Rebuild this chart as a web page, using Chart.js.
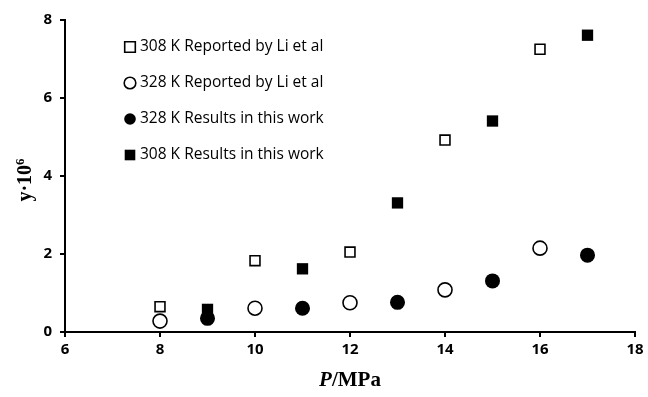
<!DOCTYPE html>
<html>
<head>
<meta charset="utf-8">
<script src="https://cdn.jsdelivr.net/npm/chart.js@4"></script>
<style>
  html, body { margin: 0; padding: 0; background: #fff; }
  #wrap { width: 648px; height: 397px; }
</style>
</head>
<body>
<div id="wrap"><canvas id="chart" width="648" height="397"></canvas></div>
<script>
// pressure (MPa) for each series
const p308Li = [8, 10, 12, 14, 16];
const y308Li = [0.65, 1.83, 2.05, 4.92, 7.25];
const p328Li = [8, 10, 12, 14, 16];
const y328Li = [0.28, 0.61, 0.75, 1.08, 2.15];
const p328Work = [9, 11, 13, 15, 17];
const y328Work = [0.35, 0.61, 0.76, 1.31, 1.97];
const p308Work = [9, 11, 13, 15, 17];
const y308Work = [0.58, 1.62, 3.31, 5.41, 7.61];

const seriesNames = [
    '308 K Reported by Li et al',
    '328 K Reported by Li et al',
    '328 K Results in this work',
    '308 K Results in this work'
];

function pts(xs, ys) {
    return xs.map((x, i) => ({ x: x, y: ys[i] }));
}

// legend drawn inside the plot, upper left
const insideLegend = {
    id: 'insideLegend',
    afterDraw(chart) {
        const ctx = chart.ctx;
        const ds = chart.data.datasets;
        ctx.save();
        ctx.font = '15.5px "Open Sans", sans-serif';
        ctx.textBaseline = 'middle';
        ds.forEach((d, i) => {
            const y = 47 + i * 36;
            const x = 130;
            const r = d.pointStyle === 'rect' ? 7.5 : 5.8;
            ctx.fillStyle = d.backgroundColor;
            ctx.strokeStyle = '#000';
            ctx.lineWidth = d.borderWidth;
            Chart.helpers.drawPoint(ctx, {
                pointStyle: d.pointStyle,
                radius: r,
                borderWidth: d.borderWidth
            }, x, y);
            ctx.fillStyle = '#000';
            ctx.fillText(d.label, 140, y);
        });
        ctx.restore();
    }
};

// axis titles with serif, italic P
const axisTitles = {
    id: 'axisTitles',
    afterDraw(chart) {
        const ctx = chart.ctx;
        const a = chart.chartArea;
        ctx.save();
        ctx.fillStyle = '#000';
        ctx.textBaseline = 'alphabetic';
        // x title
        const f1 = 'italic bold 21px "Liberation Serif", serif';
        const f2 = 'bold 21px "Liberation Serif", serif';
        ctx.font = f1;
        const w1 = ctx.measureText('P').width;
        ctx.font = f2;
        const w2 = ctx.measureText('/MPa').width;
        const cx = (a.left + a.right) / 2;
        const sx = cx - (w1 + w2) / 2;
        ctx.font = f1;
        ctx.fillText('P', sx, 386);
        ctx.font = f2;
        ctx.fillText('/MPa', sx + w1, 386);
        // y title
        ctx.translate(31, (a.top + a.bottom) / 2 + 4);
        ctx.rotate(-Math.PI / 2);
        ctx.font = 'bold 20px "Liberation Serif", serif';
        const base = 'y\u00b710';
        const wb = ctx.measureText(base).width;
        ctx.font = 'bold 13px "Liberation Serif", serif';
        const we = ctx.measureText('6').width;
        const start = -(wb + we) / 2;
        ctx.font = 'bold 20px "Liberation Serif", serif';
        ctx.fillText(base, start, 0);
        ctx.font = 'bold 13px "Liberation Serif", serif';
        ctx.fillText('6', start + wb, -7);
        ctx.restore();
    }
};

function makeSet(label, data, style, filled, radius) {
    return {
        label: label,
        data: data,
        pointStyle: style,
        pointRadius: radius,
        pointHoverRadius: radius,
        borderWidth: filled ? 0 : 1.6,
        borderColor: '#000',
        backgroundColor: filled ? '#000' : '#fff',
        showLine: false
    };
}

const ctx = document.getElementById('chart');

new Chart(ctx, {
    type: 'scatter',
    data: {
        datasets: [
            makeSet(seriesNames[0], pts(p308Li, y308Li), 'rect', false, 7),
            makeSet(seriesNames[1], pts(p328Li, y328Li), 'circle', false, 7),
            makeSet(seriesNames[2], pts(p328Work, y328Work), 'circle', true, 7.5),
            makeSet(seriesNames[3], pts(p308Work, y308Work), 'rect', true, 8)
        ]
    },
    options: {
        responsive: false,
        animation: false,
        layout: { padding: { top: 20, right: 13, left: 0, bottom: 0 } },
        plugins: {
            legend: { display: false },
            tooltip: { enabled: false }
        },
        scales: {
            x: {
                type: 'linear',
                min: 6,
                max: 18,
                ticks: {
                    stepSize: 2,
                    color: '#000',
                    font: { family: '"Open Sans", sans-serif', size: 15, weight: 'bold' },
                    padding: 4
                },
                grid: {
                    display: true,
                    drawOnChartArea: false,
                    drawTicks: true,
                    tickLength: 5,
                    color: '#000',
                    lineWidth: 2
                },
                border: { display: true, color: '#000', width: 2 },
                afterFit(scale) { scale.height = 65; }
            },
            y: {
                min: 0,
                max: 8,
                ticks: {
                    stepSize: 2,
                    color: '#000',
                    font: { family: '"Open Sans", sans-serif', size: 15, weight: 'bold' },
                    padding: 8
                },
                grid: {
                    display: true,
                    drawOnChartArea: false,
                    drawTicks: true,
                    tickLength: 5,
                    color: '#000',
                    lineWidth: 2
                },
                border: { display: true, color: '#000', width: 2 },
                afterFit(scale) { scale.width = 65; }
            }
        }
    },
    plugins: [insideLegend, axisTitles]
});
</script>
</body>
</html>
